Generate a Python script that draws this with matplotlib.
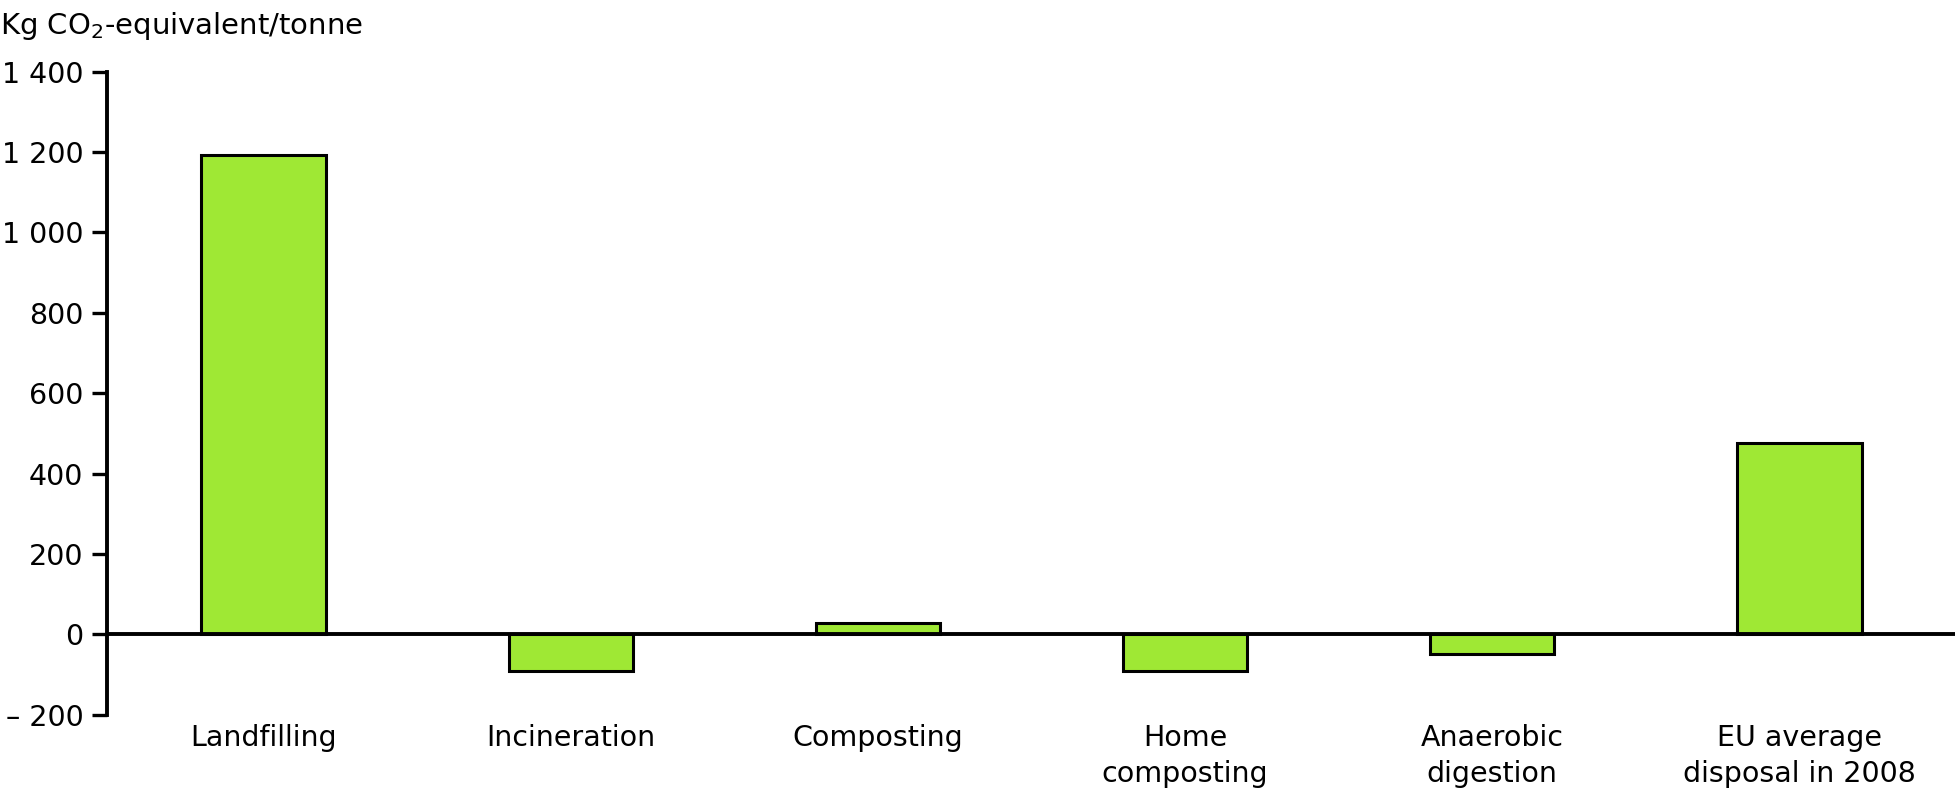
import matplotlib
matplotlib.use("Agg")
import matplotlib.pyplot as plt
from matplotlib.ticker import FixedLocator, FuncFormatter

categories = ["Landfilling", "Incineration", "Composting", "Home\ncomposting",
              "Anaerobic\ndigestion", "EU average\ndisposal in 2008"]
values = [1193, -90, 28, -90, -50, 475]
yticks = [-200, 0, 200, 400, 600, 800, 1000, 1200, 1400]
ylabel = "Kg CO$_2$-equivalent/tonne"

plt.rcParams['font.family'] = ['DejaVu Sans']

fig = plt.figure(figsize=(19.56, 7.88), dpi=100)
ax = fig.add_axes([0.0547, 0.093, 0.9453, 0.816])

x = list(range(len(categories)))
ax.bar(x, values, width=0.405, color='#9fe834', edgecolor='black', linewidth=2.2, zorder=2)
ax.axhline(0, color='black', linewidth=2.8, zorder=3)

ax.set_xlim(-0.51, len(categories) - 0.49)
ax.set_ylim(-200, 1400)
ax.yaxis.set_major_locator(FixedLocator(yticks))

def fmt(v, pos):
    v = int(round(v))
    s = f"{abs(v):,}".replace(",", " ")
    return ("\u2013 " + s) if v < 0 else s

ax.yaxis.set_major_formatter(FuncFormatter(fmt))
ax.set_xticks(x)
ax.set_xticklabels(categories, fontsize=20.5, linespacing=1.35, va='top')
ax.tick_params(axis='x', length=0, pad=7)
ax.tick_params(axis='y', labelsize=20.5, length=11, width=2.4, direction='out', pad=6)

for s in ['top', 'right', 'bottom']:
    ax.spines[s].set_visible(False)
ax.spines['left'].set_linewidth(2.8)

fig.text(0.0, 0.987, ylabel, fontsize=21, ha='left', va='top')

fig.savefig("out.png", dpi=100, facecolor='white')
